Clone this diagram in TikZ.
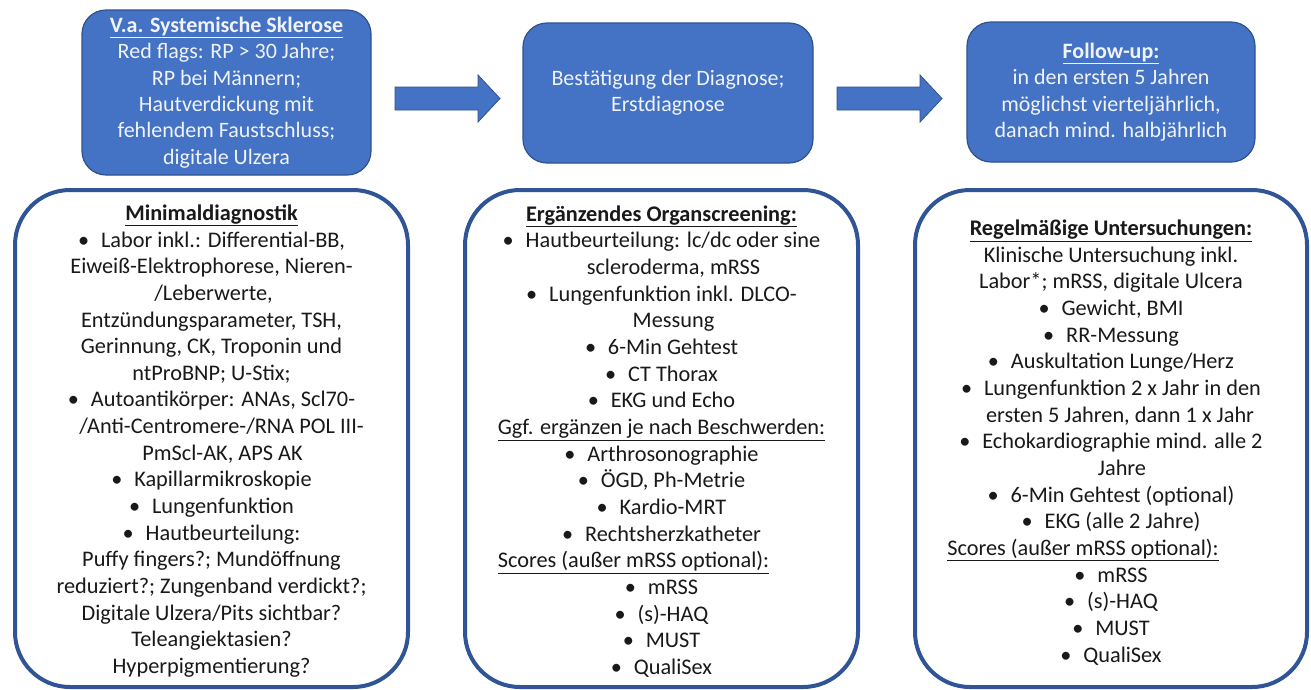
\documentclass[tikz,border=0pt]{standalone}
\usepackage{fontspec}
\setmainfont{Carlito}
\definecolor{boxfill}{RGB}{68,114,196}
\definecolor{boxline}{RGB}{47,82,143}
\definecolor{frameblue}{RGB}{47,85,151}
\definecolor{txtdark}{RGB}{25,25,25}
\definecolor{txtlight}{RGB}{240,243,248}
\newcommand\bl{\makebox[23pt][l]{\textbullet}}
\newcommand\lsh[1]{\rule{#1}{0pt}}
\begin{document}
\begin{tikzpicture}[x=1pt,y=-1pt,
  topbox/.style={draw=boxline, line width=1.2pt, fill=boxfill, rounded corners=24pt,
    text=txtlight, align=center, inner sep=0pt,
    font=\fontsize{22pt}{26.4pt}\selectfont},
  framebox/.style={draw=frameblue, line width=4pt, fill=white, rounded corners=55pt,
    inner sep=0pt, minimum width=393pt, minimum height=497pt},
  frametext/.style={text=txtdark, align=center, inner sep=0pt,
    font=\fontsize{22.3pt}{26.65pt}\selectfont},
  blockarrow/.style={fill=boxfill, draw=boxline, line width=0.8pt}]
\useasboundingbox (0,0) rectangle (1311,689);
\fill[white] (0,0) rectangle (1311,689);

% top boxes
\node[topbox, minimum width=289pt, minimum height=165pt] (t1) at (226.5,92.5)
 {\underline{\textbf{V.a. Systemische Sklerose}}\\
  Red flags: RP > 30 Jahre;\\
  RP bei Männern;\\
  Hautverdickung mit\\
  fehlendem Faustschluss;\\
  digitale Ulzera};
\node[topbox, minimum width=290pt, minimum height=140pt] (t2) at (668,93)
 {Bestätigung der Diagnose;\\
  Erstdiagnose};
\node[topbox, minimum width=288pt, minimum height=140pt] (t3) at (1111,92)
 {\underline{\textbf{Follow-up:}}\\
  in den ersten 5 Jahren\\
  möglichst vierteljährlich,\\
  danach mind. halbjährlich};

% block arrows
\coordinate (a1) at (395,98.5);
\coordinate (a2) at (837,98.5);
\foreach \c in {a1,a2}{
  \draw[blockarrow] (\c) ++(0,-11.5) -- ++(83,0) -- ++(0,-12) -- ++(22,23.5)
    -- ++(-22,23.5) -- ++(0,-12) -- ++(-83,0) -- cycle;
}

% bottom boxes
\node[framebox] (b1) at (211.5,438.5) {};
\node[framebox] (b2) at (661.5,438.5) {};
\node[framebox, minimum width=392pt] (b3) at (1111,438.5) {};

\node[frametext] (b1t) at ([yshift=-2.5pt]b1.center)
 {\underline{\textbf{Minimaldiagnostik}}\\
  \bl Labor inkl.: Differential-BB,\\
  Eiweiß-Elektrophorese, Nieren-\\
  \lsh{4pt}/Leberwerte,\\
  Entzündungsparameter, TSH,\\
  Gerinnung, CK, Troponin und\\
  ntProBNP; U-Stix;\\
  \bl Autoantikörper: ANAs, Scl70-\\
  \lsh{20pt}/Anti-Centromere-/RNA POL III-\\
  \lsh{22pt}PmScl-AK, APS AK\\
  \bl Kapillarmikroskopie\\
  \bl Lungenfunktion\\
  \bl Hautbeurteilung:\\
  Puffy fingers?; Mundöffnung\\
  reduziert?; Zungenband verdickt?;\\
  Digitale Ulzera/Pits sichtbar?\\
  Teleangiektasien?\\
  Hyperpigmentierung?};
\node[frametext] (b2t) at ([yshift=-3pt]b2.center)
 {\underline{\textbf{Ergänzendes Organscreening:}}\\
  \bl Hautbeurteilung: lc/dc oder sine\\
  \lsh{24pt}scleroderma, mRSS\\
  \bl Lungenfunktion inkl. DLCO-\\
  \lsh{24pt}Messung\\
  \bl 6-Min Gehtest\\
  \bl CT Thorax\\
  \bl EKG und Echo\\
  \underline{Ggf. ergänzen je nach Beschwerden:}\\
  \bl Arthrosonographie\\
  \bl ÖGD, Ph-Metrie\\
  \bl Kardio-MRT\\
  \bl Rechtsherzkatheter\\
  \underline{Scores (außer mRSS optional):}\lsh{56pt}\\
  \bl mRSS\\
  \bl (s)-HAQ\\
  \bl MUST\\
  \bl QualiSex};
\node[frametext] (b3t) at ([yshift=-4pt]b3.center)
 {\underline{\textbf{Regelmäßige Untersuchungen:}}\\
  Klinische Untersuchung inkl.\\
  Labor*; mRSS, digitale Ulcera\\
  \bl Gewicht, BMI\\
  \bl RR-Messung\\
  \bl Auskultation Lunge/Herz\\
  \bl Lungenfunktion 2 x Jahr in den\\
  \lsh{18pt}ersten 5 Jahren, dann 1 x Jahr\\
  \bl Echokardiographie mind. alle 2\\
  \lsh{22pt}Jahre\\
  \bl 6-Min Gehtest (optional)\\
  \bl EKG (alle 2 Jahre)\\
  \underline{Scores (außer mRSS optional):}\lsh{56pt}\\
  \bl mRSS\\
  \bl (s)-HAQ\\
  \bl MUST\\
  \bl QualiSex};
\end{tikzpicture}
\end{document}
